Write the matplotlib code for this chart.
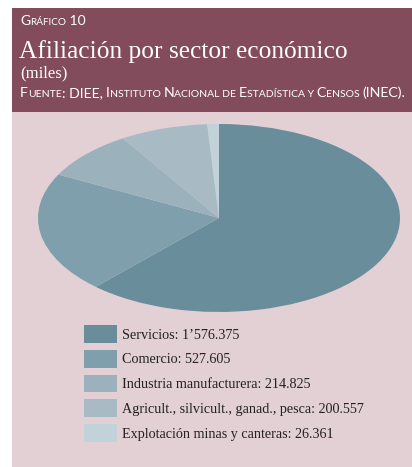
import matplotlib
matplotlib.use("Agg")
import matplotlib.pyplot as plt
from matplotlib.patches import Rectangle
from matplotlib.transforms import IdentityTransform

# data
sectors = ["Servicios", "Comercio", "Industria manufacturera",
           "Agricult., silvicult., ganad., pesca", "Explotación minas y canteras"]
values = [1576.375, 527.605, 214.825, 200.557, 26.361]
colors = ["#6a8d9c", "#809fac", "#9bb1bc", "#a8bbc5", "#c1d2d9"]

W, H = 412, 467
maroon = "#834c5c"
pink = "#e2d0d4"


def fmt(v):
    # 1576.375 -> 1'576.375 (thousands mark used in the source)
    ent = int(v)
    dec = round((v - ent) * 1000)
    if ent >= 1000:
        return f"{ent // 1000}\u2019{ent % 1000:03d}.{dec:03d}"
    return f"{ent}.{dec:03d}"


fig = plt.figure(figsize=(W / 100, H / 100), dpi=100)
fig.patch.set_facecolor("white")

# panels
fig.patches.append(Rectangle((12, 0), W - 12, H - 112, transform=IdentityTransform(),
                             facecolor=pink, edgecolor="none", zorder=-2))
fig.patches.append(Rectangle((12, H - 112), W - 12, 104, transform=IdentityTransform(),
                             facecolor=maroon, edgecolor="none", zorder=-2))

renderer = fig.canvas.get_renderer()


def small_caps(x, y, pieces, big, small, family="Lato"):
    for txt, is_big in pieces:
        t = fig.text(x, H - y, txt, transform=IdentityTransform(), color="white",
                     fontsize=big if is_big else small, family=family,
                     va="baseline", ha="left")
        x += t.get_window_extent(renderer).width


small_caps(20, 25, [("G", True), ("RÁFICO", False), (" 10", True)], 10, 7.2)
fig.text(19, H - 58, "Afiliación por sector económico", transform=IdentityTransform(),
         color="white", fontsize=18.3, family="Liberation Serif",
         va="baseline")
fig.text(20, H - 77, "(miles)", transform=IdentityTransform(),
         color="white", fontsize=12, family="Liberation Serif",
         va="baseline")
small_caps(20, 97, [("F", True), ("UENTE", False), (": DIEE, ", True),
                    ("I", True), ("NSTITUTO ", False), ("N", True), ("ACIONAL DE ", False),
                    ("E", True), ("STADÍSTICA Y ", False), ("C", True), ("ENSOS ", False),
                    ("(INEC).", True)], 10.2, 7.5)

# pie as a flattened ellipse
ax = fig.add_axes([38 / W, (H - 312) / H, 362 / W, 188 / H])
wedges, _ = ax.pie(values, colors=colors, startangle=90, counterclock=False,
                   wedgeprops=dict(linewidth=0))
ax.set_aspect("auto")
ax.set_xlim(-1, 1)
ax.set_ylim(-1, 1)
ax.axis("off")

labels = [f"{s}: {fmt(v)}" for s, v in zip(sectors, values)]
fs = 10.2
px = fs * 100 / 72
fig.legend(wedges, labels, loc="upper left",
           bbox_to_anchor=(84 / W, (H - 325) / H), frameon=False,
           prop=dict(family="Liberation Serif", size=fs),
           handlelength=33 / px, handleheight=22 / px,
           labelspacing=7 / px, handletextpad=5 / px,
           borderpad=0, borderaxespad=0, labelcolor="#222222")

fig.savefig("out.png", dpi=100, facecolor=fig.get_facecolor())
